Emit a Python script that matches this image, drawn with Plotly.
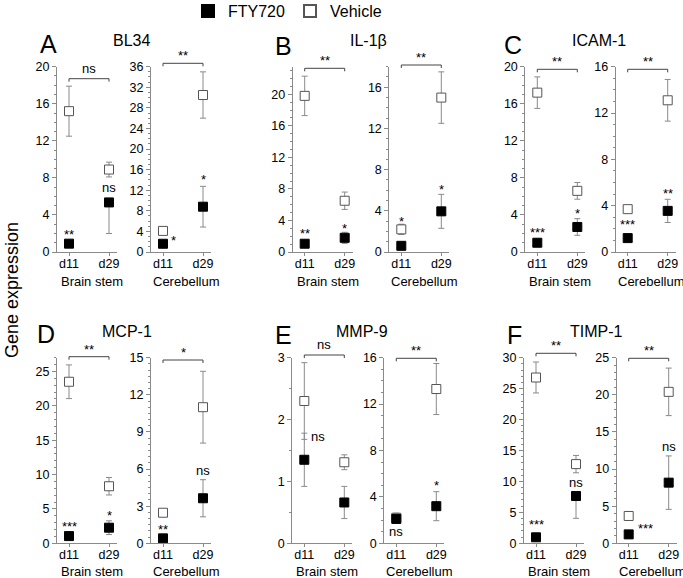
import plotly.graph_objects as go

W, H = 683, 578
FONT = "Liberation Sans, Arial, Helvetica, sans-serif"

days = ["d11", "d29"]
regions = ["Brain stem", "Cerebellum"]
genes = ["BL34", "IL-1β", "ICAM-1", "MCP-1", "MMP-9", "TIMP-1"]
letters = ["A", "B", "C", "D", "E", "F"]

# Each list: [Brain stem d11, Brain stem d29, Cerebellum d11, Cerebellum d29]
veh_bl34 = [15.2, 8.9, 4.1, 30.5]
veh_bl34_err = [2.7, 0.8, 0.2, 4.5]
fty_bl34 = [0.9, 5.35, 1.6, 8.8]
fty_bl34_lo = [0.1, 3.35, 0.1, 3.95]
fty_bl34_hi = [0.1, 0.0, 0.1, 3.95]

veh_il1b = [19.8, 6.5, 2.2, 15.0]
veh_il1b_err = [2.5, 1.1, 0.5, 2.5]
fty_il1b = [1.05, 1.8, 0.6, 3.95]
fty_il1b_lo = [0.1, 0.7, 0.1, 1.65]
fty_il1b_hi = [0.1, 0.7, 0.1, 1.65]

veh_icam1 = [17.2, 6.6, 3.7, 13.1]
veh_icam1_err = [1.7, 0.9, 0.15, 1.8]
fty_icam1 = [1.0, 2.7, 1.2, 3.55]
fty_icam1_lo = [0.1, 0.9, 0.1, 1.0]
fty_icam1_hi = [0.1, 0.9, 0.1, 1.0]

veh_mcp1 = [23.5, 8.3, 2.47, 11.0]
veh_mcp1_err = [2.45, 1.27, 0.1, 2.9]
fty_mcp1 = [1.05, 2.27, 0.4, 3.64]
fty_mcp1_lo = [0.1, 1.0, 0.1, 1.5]
fty_mcp1_hi = [0.1, 1.0, 0.1, 1.5]

veh_mmp9 = [2.3, 1.31, 2.2, 13.3]
veh_mmp9_err = [0.62, 0.12, 0.4, 2.2]
fty_mmp9 = [1.35, 0.66, 2.1, 3.2]
fty_mmp9_lo = [0.43, 0.26, 0.3, 1.25]
fty_mmp9_hi = [0.43, 0.26, 0.3, 1.25]

veh_timp1 = [26.8, 12.8, 3.68, 20.4]
veh_timp1_err = [2.5, 1.4, 0.4, 3.2]
fty_timp1 = [0.97, 7.64, 1.2, 8.17]
fty_timp1_lo = [0.1, 3.6, 0.1, 3.6]
fty_timp1_hi = [0.1, 0.0, 0.1, 3.6]

veh_means = [veh_bl34, veh_il1b, veh_icam1, veh_mcp1, veh_mmp9, veh_timp1]
veh_errs = [veh_bl34_err, veh_il1b_err, veh_icam1_err, veh_mcp1_err, veh_mmp9_err, veh_timp1_err]
fty_means = [fty_bl34, fty_il1b, fty_icam1, fty_mcp1, fty_mmp9, fty_timp1]
fty_los = [fty_bl34_lo, fty_il1b_lo, fty_icam1_lo, fty_mcp1_lo, fty_mmp9_lo, fty_timp1_lo]
fty_his = [fty_bl34_hi, fty_il1b_hi, fty_icam1_hi, fty_mcp1_hi, fty_mmp9_hi, fty_timp1_hi]

# significance labels
bracket_labels = ["ns", "**", "**", "**", "**", "**", "**", "*", "ns", "**", "**", "**"]
point_labels = [
    [(0, 2.2, "**"), (1, 7.0, "ns")],
    [(0.27, 2.9, "*"), (1, 14.6, "*")],
    [(0, 2.75, "**"), (1, 3.4, "*")],
    [(0, 3.3, "*"), (1, 6.35, "*")],
    [(0, 2.4, "***"), (1, 4.5, "*")],
    [(0, 2.6, "***"), (1, 5.35, "**")],
    [(0, 2.9, "***"), (1, 4.45, "*")],
    [(0, 1.34, "**"), (1, 5.9, "ns")],
    [(0.34, 1.72, "ns"), (1.32, 1.07, "ns")],
    [(0, 1.0, "ns"), (1, 5.2, "*")],
    [(0, 3.5, "***"), (1, 9.8, "ns")],
    [(0.42, 2.45, "***"), (1, 13.0, "ns")],
]

# axis settings per subplot
y_max = [20, 36, 23.5, 18, 20, 16, 27, 15, 3, 16, 30, 25]
y_dtick = [4, 4, 4, 4, 4, 4, 5, 3, 1, 4, 5, 5]
y_minor = [1, 1, 1, 1, 1, 1, 1, 0.5, 0.5, 1, 1, 1]

# layout geometry (pixels)
axis_left = [57, 151, 292.7, 389.3, 525.3, 615.7, 57, 151, 292.3, 384.3, 524, 616.7]
row_y0 = [252, 543.3]
row_top = [66.7, 357.7]
bracket_px = [78.7, 63.3, 68.3, 65, 69.3, 69.3, 356.7, 360, 355, 358.3, 353.3, 358.3]
letter_pos = [(48, 44), (283, 46), (513, 45), (46, 334), (283, 335), (514, 335)]
title_pos = [(131.7, 41), (368, 41), (599, 41), (127, 331), (362, 331), (596, 331)]
region_px = [281, 571.5]
PLOT_W = 60

AX_COLOR = "#8a8a8a"
ERR_COLOR = "#8a8a8a"

fig = go.Figure()
layout = dict(
    width=W, height=H,
    margin=dict(l=0, r=0, t=0, b=0, autoexpand=False),
    paper_bgcolor="white", plot_bgcolor="white",
    font=dict(family=FONT, color="black", size=12),
)
shapes = []
annotations = []


def px_x(v):
    return v / W


def px_y(v):
    return 1 - v / H


for i in range(12):
    g = i // 2
    r = i % 2
    row = g // 3
    n = "" if i == 0 else str(i + 1)
    xa, ya = "x" + n, "y" + n
    L = axis_left[i]
    layout["xaxis" + n] = dict(
        domain=[px_x(L), px_x(L + PLOT_W)], anchor=ya,
        type="category", categoryorder="array", categoryarray=days,
        range=[-0.3, 1.2], showline=True, linecolor=AX_COLOR, linewidth=1,
        ticks="outside", ticklen=3, tickcolor=AX_COLOR, showgrid=False, zeroline=False,
        ticklabelstandoff=-3,
        tickfont=dict(size=12.5, family=FONT, color="black"), fixedrange=True,
    )
    layout["yaxis" + n] = dict(
        domain=[px_y(row_y0[row]), px_y(row_top[row])], anchor=xa,
        range=[0, y_max[i]], tick0=0, dtick=y_dtick[i],
        showline=True, linecolor=AX_COLOR, linewidth=1,
        ticks="outside", ticklen=4, tickcolor=AX_COLOR, showgrid=False, zeroline=False,
        minor=dict(dtick=y_minor[i], ticks="outside", ticklen=2, tickcolor=AX_COLOR, showgrid=False),
        tickfont=dict(size=12.5, family=FONT, color="black"), fixedrange=True,
    )
    sl = slice(2 * r, 2 * r + 2)
    fig.add_trace(go.Scatter(
        x=days, y=veh_means[g][sl], xaxis=xa, yaxis=ya, mode="markers",
        name="Vehicle", legendgroup="veh", showlegend=(i == 0), legendrank=2,
        marker=dict(symbol="square", size=9, color="white", line=dict(color="#555555", width=1)),
        error_y=dict(type="data", array=veh_errs[g][sl], color=ERR_COLOR, thickness=1, width=3),
        cliponaxis=False,
    ))
    fig.add_trace(go.Scatter(
        x=days, y=fty_means[g][sl], xaxis=xa, yaxis=ya, mode="markers",
        name="FTY720", legendgroup="fty", showlegend=(i == 0), legendrank=1,
        marker=dict(symbol="square", size=9, color="black", line=dict(color="black", width=1)),
        error_y=dict(type="data", symmetric=False, array=fty_his[g][sl], arrayminus=fty_los[g][sl],
                     color=ERR_COLOR, thickness=1, width=3),
        cliponaxis=False,
    ))
    # bracket
    by = bracket_px[i]
    shapes.append(dict(type="line", xref=xa, yref="paper", x0=0, x1=1,
                       y0=px_y(by), y1=px_y(by), line=dict(color="#444444", width=1)))
    for xx in (0, 1):
        shapes.append(dict(type="line", xref=xa, yref="paper", x0=xx, x1=xx,
                           y0=px_y(by), y1=px_y(by + 3), line=dict(color="#444444", width=1)))
    lab = bracket_labels[i]
    annotations.append(dict(
        x=0.5, y=px_y(by - 1), xref=xa, yref="paper", text=lab, showarrow=False,
        xanchor="center", yanchor="bottom", font=dict(size=13, family=FONT, color="black"),
        yshift=(-3 if "*" in lab else 0),
    ))
    for (px_, py_, t) in point_labels[i]:
        annotations.append(dict(
            x=px_, y=py_, xref=xa, yref=ya, text=t, showarrow=False,
            xanchor="center", yanchor="middle",
            font=dict(size=13, family=FONT, color="black"),
            yshift=(-3 if "*" in t else 0),
        ))
    # region label
    annotations.append(dict(
        x=0.5, y=px_y(region_px[row]), xref=xa, yref="paper", text=regions[r],
        showarrow=False, xanchor="center", yanchor="middle", xshift=3,
        font=dict(size=13, family=FONT, color="black"),
    ))

for g in range(6):
    lx, ly = letter_pos[g]
    annotations.append(dict(x=px_x(lx), y=px_y(ly), xref="paper", yref="paper", text=letters[g],
                            showarrow=False, xanchor="center", yanchor="middle",
                            font=dict(size=25, family=FONT, color="black")))
    tx, ty = title_pos[g]
    annotations.append(dict(x=px_x(tx), y=px_y(ty), xref="paper", yref="paper", text=genes[g],
                            showarrow=False, xanchor="center", yanchor="middle",
                            font=dict(size=16, family=FONT, color="black")))

annotations.append(dict(x=px_x(12), y=px_y(290), xref="paper", yref="paper", text="Gene expression",
                        showarrow=False, textangle=-90, xanchor="center", yanchor="middle",
                        font=dict(size=18, family=FONT, color="black")))

layout["shapes"] = shapes
layout["annotations"] = annotations
layout["showlegend"] = True
layout["legend"] = dict(
    orientation="h", x=px_x(188), y=1 + 6 / H, xanchor="left", yanchor="top",
    font=dict(size=16, family=FONT, color="black"), bgcolor="rgba(0,0,0,0)",
    itemsizing="constant", traceorder="normal",
)
fig.update_layout(**layout)
fig.write_html("out.html", config={"displayModeBar": False},
               post_script="document.body.style.margin='0';document.body.style.overflow='hidden';")
